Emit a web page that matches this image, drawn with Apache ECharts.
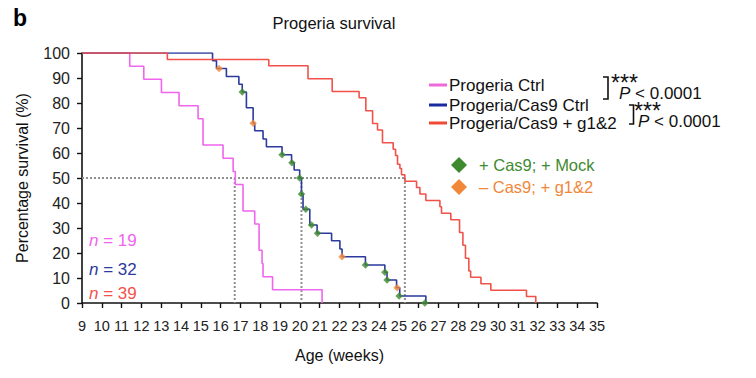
<!DOCTYPE html>
<html><head><meta charset="utf-8">
<script src="https://cdn.jsdelivr.net/npm/echarts@6/dist/echarts.min.js"></script>
<style>html,body{margin:0;padding:0;background:#fff}#c{width:756px;height:378px}</style>
</head><body><div id="c"></div>
<script>
// ---- data ----
const xTickLabels = [9,10,11,12,13,14,15,16,17,18,19,20,21,22,23,24,25,26,27,28,29,30,31,32,33,34,35];
const yTickLabels = [0,10,20,30,40,50,60,70,80,90,100];

const seriesNames = ['Progeria Ctrl', 'Progeria/Cas9 Ctrl', 'Progeria/Cas9 + g1&2'];
const nCounts = [19, 32, 39];

const pinkAge  = [9, 11.41, 12.12, 13.01, 13.90, 14.86, 15.11, 16.12, 16.63, 16.74, 17.13, 17.72, 17.94, 18.09, 18.14, 18.62, 21.12];
const pinkSurv = [100, 94.7, 89.5, 84.2, 78.9, 73.7, 63.2, 57.9, 52.6, 47.4, 36.8, 31.6, 21.1, 15.8, 10.5, 5.3, 0];

const blueAge  = [9, 15.59, 15.79, 16.29, 16.92, 17.09, 17.30, 17.64, 17.72, 18.14, 18.31, 19.10, 19.58, 19.71, 19.99, 20.08, 20.16, 20.50, 20.87, 21.60, 22.02, 22.13, 23.31, 24.29, 24.40, 24.88, 25.04, 26.36];
const blueSurv = [100, 96.9, 93.8, 90.6, 87.5, 84.4, 78.1, 71.9, 68.9, 65.6, 62.5, 59.3, 56.1, 53.2, 50.0, 43.6, 37.5, 31.2, 27.9, 24.9, 21.6, 18.5, 15.2, 12.3, 9.2, 6.1, 2.8, 0];

const redAge  = [9, 13.31, 18.43, 20.41, 21.63, 22.99, 23.33, 23.67, 23.92, 24.17, 24.71, 24.83, 24.93, 25.05, 25.13, 25.30, 25.89, 26.06, 26.36, 27.07, 27.15, 27.62, 28.06, 28.23, 28.36, 28.53, 28.62, 29.14, 29.64, 31.44, 31.91];
const redSurv = [100, 97.4, 94.9, 89.7, 84.6, 82.1, 76.9, 71.8, 69.2, 64.1, 61.5, 59.0, 55.5, 53.8, 51.3, 48.7, 46.2, 43.6, 41.0, 38.5, 35.9, 33.3, 28.2, 23.1, 17.9, 12.8, 10.3, 7.7, 5.1, 2.6, 0];

const greenAge  = [17.09, 19.10, 19.60, 19.99, 20.08, 20.30, 20.59, 20.89, 23.31, 24.29, 24.40, 25.01, 26.31];
const greenSurv = [84.4, 59.3, 56.1, 50.0, 43.6, 37.5, 31.2, 27.9, 15.2, 12.3, 9.2, 2.8, 0];
const orangeAge  = [15.92, 17.64, 22.13, 24.91];
const orangeSurv = [93.8, 71.9, 18.5, 6.1];

const medianAge = [16.71, 20.08, 25.30];
const medianLevel = 50;

const pValueText = 'P < 0.0001';
const starText = '***';
const markerLegend = ['+ Cas9; + Mock', '\u2013 Cas9; + g1&2'];

// ---- chart ----
const FONT = '"Liberation Sans", Arial, Helvetica, sans-serif';
const colors = ['#f064ee', '#2b3a9c', '#f2514a'];
const legendLineColors = ['#ef6ad9', '#1a2a9e', '#ee4a35'];
const green = '#3f8a2f', orange = '#f0873a';

function pairs(a, b) { return a.map((v, i) => [v, b[i]]); }

const medianSeries = [];
medianSeries.push({
  type: 'line', silent: true, symbol: 'none', z: 1,
  data: [[xTickLabels[0], medianLevel], [Math.max(...medianAge), medianLevel]],
  lineStyle: { color: '#8f8f8f', width: 2, type: [2, 2] }
});
medianAge.forEach(m => medianSeries.push({
  type: 'line', silent: true, symbol: 'none', z: 1,
  data: [[m, medianLevel], [m, 0]],
  lineStyle: { color: '#8f8f8f', width: 2, type: [2, 2] }
}));

const lineSeries = [[pinkAge, pinkSurv], [blueAge, blueSurv], [redAge, redSurv]].map((d, i) => ({
  name: seriesNames[i], type: 'line', step: 'end', symbol: 'none', z: 2,
  data: pairs(d[0], d[1]),
  lineStyle: { color: colors[i], width: 1.6 }
}));

const scatterSeries = [
  { type: 'scatter', symbol: 'diamond', symbolSize: 7.5, z: 5, itemStyle: { color: green }, data: pairs(greenAge, greenSurv) },
  { type: 'scatter', symbol: 'diamond', symbolSize: 7.5, z: 5, itemStyle: { color: orange }, data: pairs(orangeAge, orangeSurv) }
];

const graphics = [];
graphics.push({ type: 'text', left: 13, top: 6, style: { text: 'b', font: 'bold 23px ' + FONT, fill: '#000' } });
graphics.push({ type: 'text', x: 334, y: 23, style: { text: 'Progeria survival', font: '16.5px ' + FONT, fill: '#111', align: 'center', verticalAlign: 'middle' } });
const legY = [85, 105, 123];
seriesNames.forEach((n, i) => {
  graphics.push({ type: 'line', shape: { x1: 429, y1: legY[i], x2: 447, y2: legY[i] }, style: { stroke: legendLineColors[i], lineWidth: 3 } });
  graphics.push({ type: 'text', x: 449, y: legY[i], style: { text: n, font: '17px ' + FONT, fill: '#111', verticalAlign: 'middle' } });
});
// brackets
graphics.push({ type: 'polyline', shape: { points: [[603, 77], [608, 77], [608, 99], [603, 99]] }, style: { stroke: '#111', lineWidth: 1.6, fill: null } });
graphics.push({ type: 'polyline', shape: { points: [[629, 105], [633.5, 105], [633.5, 124], [629, 124]] }, style: { stroke: '#111', lineWidth: 1.6, fill: null } });
// significance annotations: stars + P value combined in one rich text block each
const sigPos = [[611, 79, 8], [634, 107, 4]];
sigPos.forEach(p => graphics.push({ type: 'text', x: p[0], y: p[1], style: {
  text: '{s|' + starText + '}\n{i|P}{r|' + pValueText.slice(1) + '}',
  verticalAlign: 'top',
  rich: {
    s: { fontSize: 23, fontFamily: FONT, fill: '#111', lineHeight: 8 },
    i: { fontStyle: 'italic', fontSize: 17, fontFamily: FONT, fill: '#111', lineHeight: 12, padding: [0, 0, 0, p[2]] },
    r: { fontSize: 17, fontFamily: FONT, fill: '#111', lineHeight: 12 }
  }
} }));
// marker legend
[[green, 165], [orange, 187]].forEach((c, i) => {
  graphics.push({ type: 'polygon', shape: { points: [[459, c[1] - 8], [467, c[1]], [459, c[1] + 8], [451, c[1]]] }, style: { fill: c[0] } });
  graphics.push({ type: 'text', x: 479, y: c[1], style: { text: markerLegend[i], font: '16.5px ' + FONT, fill: c[0], verticalAlign: 'middle' } });
});
// n labels
const nY = [240, 269, 293];
nCounts.forEach((n, i) => {
  graphics.push({ type: 'text', x: 89, y: nY[i], style: {
    text: '{i|n}{r| = ' + n + '}', verticalAlign: 'middle',
    rich: { i: { fontStyle: 'italic', fontSize: 17, fontFamily: FONT, fill: colors[i] }, r: { fontSize: 17, fontFamily: FONT, fill: colors[i] } }
  } });
});

const chart = echarts.init(document.getElementById('c'), null, { renderer: 'svg' });
chart.setOption({
  animation: false,
  backgroundColor: '#fff',
  grid: { left: 82, right: 159, top: 53, bottom: 75, containLabel: false },
  xAxis: {
    type: 'value', min: xTickLabels[0], max: xTickLabels[xTickLabels.length - 1], interval: 1,
    name: 'Age (weeks)', nameLocation: 'middle', nameGap: 44,
    nameTextStyle: { fontSize: 16, fontFamily: FONT, color: '#111' },
    axisLine: { lineStyle: { color: '#111', width: 1.6 } },
    axisTick: { show: true, length: 5, inside: false, lineStyle: { color: '#111', width: 1.4 } },
    axisLabel: { fontSize: 14.5, fontFamily: FONT, color: '#222', margin: 15 },
    splitLine: { show: false }
  },
  yAxis: {
    type: 'value', min: yTickLabels[0], max: yTickLabels[yTickLabels.length - 1], interval: 10,
    name: 'Percentage survival (%)', nameLocation: 'middle', nameGap: 52, nameRotate: 90,
    nameTextStyle: { fontSize: 16, fontFamily: FONT, color: '#111' },
    axisLine: { show: true, lineStyle: { color: '#111', width: 1.6 } },
    axisTick: { show: true, length: 5, lineStyle: { color: '#111', width: 1.4 } },
    axisLabel: { fontSize: 16, fontFamily: FONT, color: '#222', margin: 12 },
    splitLine: { show: false }
  },
  series: [...medianSeries, ...lineSeries, ...scatterSeries],
  graphic: graphics
});
</script>
</body></html>
